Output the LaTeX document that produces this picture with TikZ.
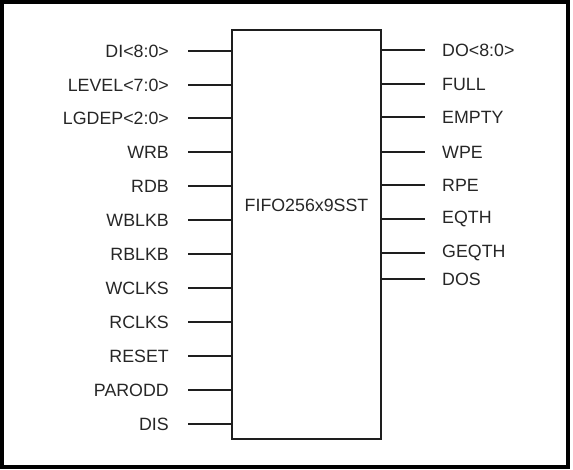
\documentclass[tikz,border=0pt]{standalone}
\usepackage{fontspec}
\setmainfont{Liberation Sans}
\usepackage{xcolor}
\usepackage{tikz}
\usetikzlibrary{calc,positioning}
\definecolor{pinText}{RGB}{38,38,38}
\definecolor{pinWire}{RGB}{30,30,30}

\begin{document}
\begin{tikzpicture}[x=1pt,y=-1pt,
    pinwire/.style={pinWire, line width=2pt},
    pinlabel/.style={text=pinText, inner sep=0pt, font=\fontsize{17.8}{20}\selectfont}]

    \useasboundingbox (0,0) rectangle (573,470);

    % Outer frame
    \draw[black, line width=4.5pt] (2,2) rectangle (568,467);

    % Block
    \node[draw=pinWire, line width=2.2pt, outer sep=0pt, inner sep=0pt,
          minimum width=149pt, minimum height=409pt] (fifo) at (306.5,234.5) {};
    \node[pinlabel] (fifoName) at (306.5,205) {FIFO256x9SST};

    % Left pins
    \foreach \lbl/\ypos [count=\i] in {DI<8:0>/51, LEVEL<7:0>/85, LGDEP<2:0>/118,
        WRB/152, RDB/186, WBLKB/220, RBLKB/254, WCLKS/288, RCLKS/322,
        RESET/356, PARODD/390, DIS/424} {
        \coordinate (inEnd\i) at (188,\ypos);
        \draw[pinwire] (inEnd\i) -- (inEnd\i -| fifo.west);
        \node[pinlabel, left=19pt of inEnd\i] (inPin\i) {\lbl};
    }

    % Right pins
    \foreach \lbl/\ypos [count=\i] in {DO<8:0>/50, FULL/84, EMPTY/117,
        WPE/152, RPE/185, EQTH/219, GEQTH/253, DOS/279} {
        \coordinate (outEnd\i) at (425,\ypos);
        \draw[pinwire] (fifo.east |- outEnd\i) -- (outEnd\i);
        \node[pinlabel, right=17pt of outEnd\i] (outPin\i) {\lbl};
    }

\end{tikzpicture}
\end{document}
